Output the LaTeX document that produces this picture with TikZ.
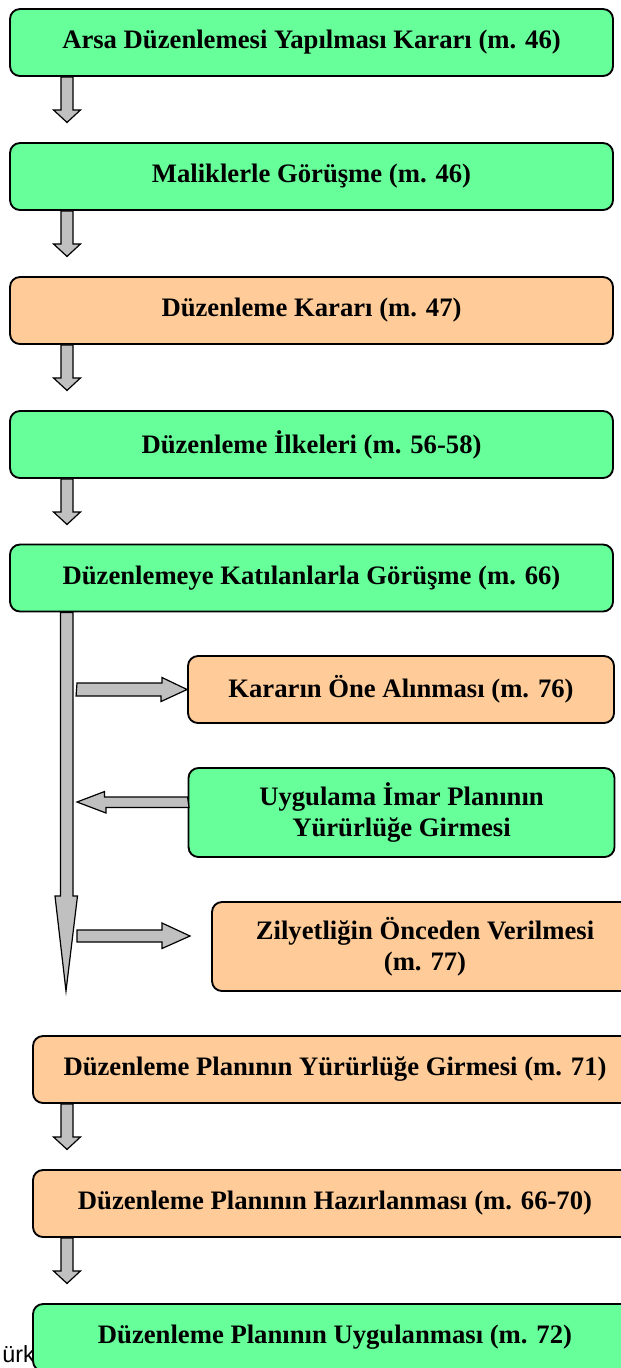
\documentclass[tikz,border=0pt]{standalone}
\usepackage{fontspec}
\setmainfont{Liberation Serif}
\newfontfamily\arialfont{Liberation Sans}
\definecolor{boxgreen}{HTML}{66FF99}
\definecolor{boxorange}{HTML}{FFCC99}
\definecolor{arrgray}{HTML}{C0C0C0}
\tikzset{
  flowbox/.style={draw=black, line width=1.4pt, rounded corners=7.5pt, align=center,
    font=\fontsize{20}{23.5}\selectfont\bfseries, inner sep=0pt},
  greenbox/.style={flowbox, fill=boxgreen},
  orangebox/.style={flowbox, fill=boxorange},
  widebox/.style={minimum width=452.25pt, minimum height=50.25pt},
  sidebox/.style={minimum width=319.5pt, minimum height=50.25pt},
  tallbox/.style={minimum width=319.5pt, minimum height=66.75pt},
  arrbody/.style={draw=black, line width=0.9pt, fill=arrgray, line join=miter}
}
\newcommand\downarr[1]{%
  \draw[arrbody] (67,0 |- #1.south) ++(-6,0) -- ++(0,33) -- ++(-7.5,0) -- ++(13.5,12.5)
    -- ++(13.5,-12.5) -- ++(-7.5,0) -- ++(0,-33) -- cycle;}
\begin{document}
\begin{tikzpicture}[x=0.75pt, y=-0.75pt]
\useasboundingbox (0,0) rectangle (621,1368);
\clip (0,0) rectangle (621,1368);
\fill[white] (0,0) rectangle (621,1368);

\node[greenbox, widebox] (b1) at (311.5,42.5) {Arsa Düzenlemesi Yapılması Kararı (m. 46)};
\node[greenbox, widebox] (b2) at (311.5,176.5) {Maliklerle Görüşme (m. 46)};
\node[orangebox, widebox] (b3) at (311.5,310.5) {Düzenleme Kararı (m. 47)};
\node[greenbox, widebox] (b4) at (311.5,444.5) {Düzenleme İlkeleri (m. 56-58)};
\node[greenbox, widebox] (b5) at (311.5,578) {Düzenlemeye Katılanlarla Görüşme (m. 66)};
\node[orangebox, sidebox] (b6) at (401,689.5) {Kararın Öne Alınması (m. 76)};
\node[greenbox, tallbox] (b7) at (401.5,812.5) {Uygulama İmar Planının\\Yürürlüğe Girmesi};
\node[orangebox, tallbox] (b8) at (425,946.5) {Zilyetliğin Önceden Verilmesi\\(m. 77)};
\node[orangebox, minimum width=453pt, minimum height=50.25pt] (b9) at (335,1069.5) {Düzenleme Planının Yürürlüğe Girmesi (m. 71)};
\node[orangebox, minimum width=453pt, minimum height=50.25pt] (b10) at (335,1203.5) {Düzenleme Planının Hazırlanması (m. 66-70)};
\node[anchor=base east, inner sep=0pt, font=\arialfont\fontsize{17.5}{20}\selectfont] (note) at (35,1362) {ürk};
\node[greenbox, minimum width=453pt, minimum height=50.25pt] (b11) at (335,1337.5) {Düzenleme Planının Uygulanması (m. 72)};

\downarr{b1}
\downarr{b2}
\downarr{b3}
\downarr{b4}
\downarr{b9}
\downarr{b10}

% long arrow from b5
\draw[arrbody] (60.5,0 |- b5.south) -- (60.5,896) -- (55,896) -- (66,991) -- (77.5,896) -- (73,896) -- (73,0 |- b5.south) -- cycle;

% side arrow to b6
\coordinate (s1) at (77,0 |- b6.west);
\draw[arrbody] (s1) ++(0,-6.5) -- ++(85,0) -- ++(0,-5.5) -- (b6.west) -- ++(-26,12) -- ++(0,-5.5) -- ++(-85,0) -- cycle;

% side arrow from b7
\coordinate (s2) at (77,802);
\draw[arrbody] ([yshift=7.5pt]b7.west) ++(0,-5.5) -- ++(-83,0) -- ++(0,-5.5) -- (s2) -- ++(29,11) -- ++(0,-5.5) -- ++(83,0) -- cycle;

% side arrow to b8
\coordinate (s3) at (77,936);
\coordinate (t3) at (190,936);
\draw[arrbody] (s3) ++(0,-6) -- ++(85,0) -- ++(0,-7) -- (t3) -- ++(-28,12.5) -- ++(0,-6.5) -- ++(-85,0) -- cycle;
\end{tikzpicture}
\end{document}
